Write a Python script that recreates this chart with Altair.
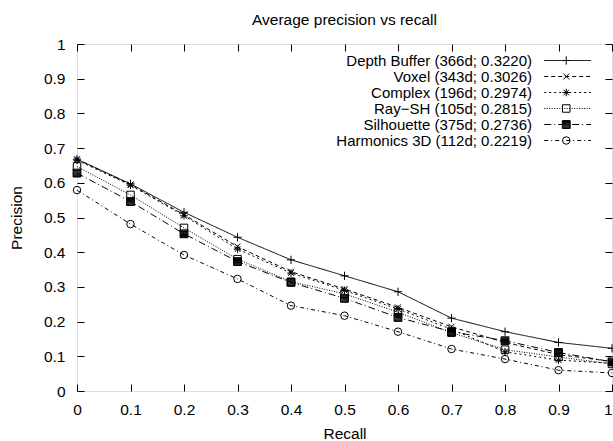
import altair as alt
import pandas as pd

recall = [0.0, 0.1, 0.2, 0.3, 0.4, 0.5, 0.6, 0.7, 0.8, 0.9, 1.0]
names = [
    "Depth Buffer (366d; 0.3220)",
    "Voxel (343d; 0.3026)",
    "Complex (196d; 0.2974)",
    "Ray\u2212SH (105d; 0.2815)",
    "Silhouette (375d; 0.2736)",
    "Harmonics 3D (112d; 0.2219)",
]
depth_buffer = [0.668, 0.597, 0.515, 0.443, 0.378, 0.332, 0.286, 0.210, 0.171, 0.140, 0.123]
voxel = [0.668, 0.595, 0.508, 0.416, 0.344, 0.294, 0.241, 0.185, 0.140, 0.105, 0.085]
complex_ = [0.665, 0.593, 0.505, 0.409, 0.340, 0.290, 0.236, 0.178, 0.113, 0.089, 0.080]
ray_sh = [0.647, 0.565, 0.470, 0.380, 0.315, 0.280, 0.227, 0.168, 0.119, 0.098, 0.078]
silhouette = [0.628, 0.546, 0.453, 0.373, 0.313, 0.267, 0.212, 0.171, 0.145, 0.111, 0.084]
harmonics = [0.579, 0.481, 0.392, 0.323, 0.246, 0.217, 0.171, 0.121, 0.092, 0.060, 0.052]
series_values = [depth_buffer, voxel, complex_, ray_sh, silhouette, harmonics]

ticks = [0.0, 0.1, 0.2, 0.3, 0.4, 0.5, 0.6, 0.7, 0.8, 0.9, 1.0]

rows = []
for name, vals in zip(names, series_values):
    for r, p in zip(recall, vals):
        rows.append({"series": name, "series_d": name, "recall": r, "precision": p})
df = pd.DataFrame(rows)

dashes = [[1, 0], [4, 3], [2, 3], [1, 1.5], [7, 3, 1, 3], [4, 3, 1, 3]]
filled_square = (
    "M-1.05,-1.05L1.05,-1.05L1.05,1.05L-1.05,1.05Z"
    "M-1.05,-0.8L1.05,-0.8M-1.05,-0.55L1.05,-0.55M-1.05,-0.3L1.05,-0.3"
    "M-1.05,-0.05L1.05,-0.05M-1.05,0.2L1.05,0.2M-1.05,0.45L1.05,0.45"
    "M-1.05,0.7L1.05,0.7M-1.05,0.9L1.05,0.9"
)
shapes = [
    "M-1.1,0L1.1,0M0,-1.1L0,1.1",
    "M-0.8,-0.8L0.8,0.8M-0.8,0.8L0.8,-0.8",
    "M-1,0L1,0M0,-1L0,1M-0.75,-0.75L0.75,0.75M-0.75,0.75L0.75,-0.75",
    "square",
    filled_square,
    "circle",
]

FONT = "Liberation Sans"
FS = 15.5
LFS = 15
TICK = 7
ROWPAD = 0

x_scale = alt.Scale(domain=[0, 1], nice=False)
y_scale = alt.Scale(domain=[0, 1], nice=False)

line_legend = alt.Legend(
    title=None, orient="none", legendX=436, legendY=9,
    symbolType="M7.9,0L23.5,0", symbolSize=36, symbolStrokeColor="black",
    symbolStrokeWidth=1, labelAlign="right",
    labelFont=FONT, labelFontSize=LFS, labelColor="black", rowPadding=ROWPAD,
    padding=0, labelLimit=400,
)
shape_legend = alt.Legend(
    title=None, orient="none", legendX=436, legendY=9,
    symbolSize=56, symbolStrokeColor="black", symbolStrokeWidth=1,
    symbolOffset=45.75, labelExpr="' '", labelAlign="right",
    labelFont=FONT, labelFontSize=LFS, rowPadding=ROWPAD, padding=0,
)

lines = alt.Chart(df).mark_line(color="black", strokeWidth=1).encode(
    x=alt.X("recall:Q", scale=x_scale, axis=alt.Axis(
        orient="bottom", values=ticks, format="~g", offset=-TICK, tickSize=TICK,
        domain=False, grid=False, labelPadding=11, title="Recall",
        titlePadding=9, tickColor="black", labelColor="black",
        labelAlign={"condition": {"test": "datum.value >= 1", "value": "right"},
                    "value": "center"},
        labelFont=FONT, labelFontSize=FS, titleFont=FONT, titleFontSize=FS,
        titleFontWeight="normal", titleColor="black", labelFlush=False)),
    y=alt.Y("precision:Q", scale=y_scale, axis=alt.Axis(
        orient="left", values=ticks, format="~g", offset=-TICK, tickSize=TICK,
        domain=False, grid=False, labelPadding=12, title="Precision",
        titlePadding=19, tickColor="black", labelColor="black",
        labelFont=FONT, labelFontSize=FS, titleFont=FONT, titleFontSize=FS,
        titleFontWeight="normal", titleColor="black", labelFlush=False)),
    strokeDash=alt.StrokeDash("series_d:N", sort=names,
                              scale=alt.Scale(range=dashes), legend=line_legend),
)

points = alt.Chart(df).mark_point(stroke="black", strokeWidth=1, opacity=1,
                                  size=56, filled=False).encode(
    x=alt.X("recall:Q", scale=x_scale, axis=alt.Axis(
        orient="top", values=ticks, offset=-TICK, tickSize=TICK, domain=False,
        grid=False, labels=False, title=None, tickColor="black")),
    y=alt.Y("precision:Q", scale=y_scale, axis=alt.Axis(
        orient="right", values=ticks, offset=-TICK, tickSize=TICK, domain=False,
        grid=False, labels=False, title=None, tickColor="black")),
    shape=alt.Shape("series:N", sort=names, scale=alt.Scale(range=shapes),
                    legend=shape_legend),
)

chart = alt.layer(lines, points).resolve_axis(
    x="independent", y="independent"
).properties(
    width=535, height=347,
    autosize=alt.AutoSizeParams(type="none"),
    padding={"left": 77, "top": 44, "right": 1, "bottom": 50},
    title=alt.TitleParams("Average precision vs recall", font=FONT, fontSize=FS,
                          fontWeight="normal", color="black", offset=9),
).configure_view(stroke="black", strokeWidth=1).configure(background="white")

chart.save("out.html", embed_options={"renderer": "svg", "actions": False})
